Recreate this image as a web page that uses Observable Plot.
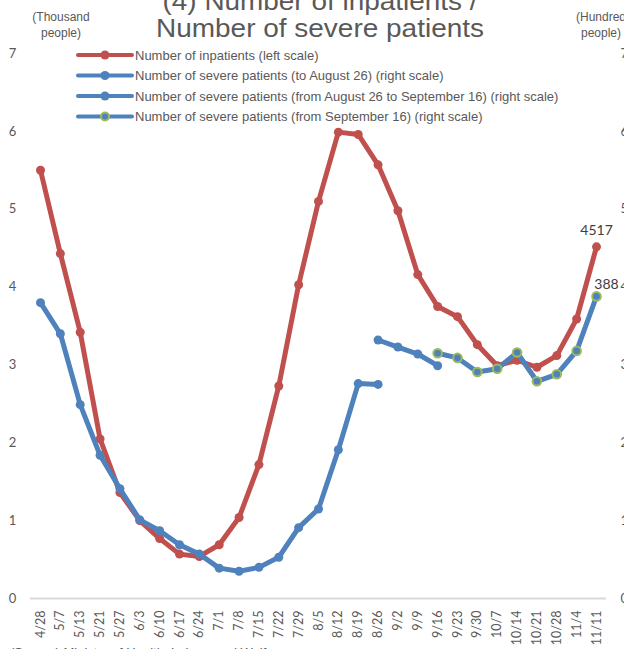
<!DOCTYPE html>
<html>
<head>
<meta charset="utf-8">
<script src="https://cdn.jsdelivr.net/npm/d3@7"></script>
<script src="https://cdn.jsdelivr.net/npm/@observablehq/plot@0.6"></script>
<style>
  html, body { margin: 0; padding: 0; background: #ffffff; overflow: hidden; }
  #chart svg { overflow: visible; display: block; }
</style>
</head>
<body>
<div id="chart"></div>
<script>
// ---- Data ----
const dates = ["4/28","5/7","5/13","5/21","5/27","6/3","6/10","6/17","6/24","7/1","7/8","7/15","7/22","7/29","8/5","8/12","8/19","8/26","9/2","9/9","9/16","9/23","9/30","10/7","10/14","10/21","10/28","11/4","11/11"];
// Number of inpatients (thousand people, left scale), 4/28 .. 11/11
const inpatients = [5.50,4.43,3.42,2.05,1.36,1.00,0.77,0.57,0.54,0.69,1.04,1.72,2.73,4.03,5.10,5.99,5.96,5.57,4.98,4.16,3.75,3.62,3.26,2.99,3.06,2.97,3.12,3.59,4.517];
// Number of severe patients (hundred people, right scale)
const severeToAug26 = [3.80,3.40,2.49,1.84,1.41,1.01,0.87,0.69,0.57,0.39,0.35,0.40,0.53,0.91,1.15,1.91,2.76,2.75]; // 4/28 .. 8/26
const severeAug26ToSep16 = [3.32,3.23,3.14,2.99]; // 8/26 .. 9/16
const severeFromSep16 = [3.15,3.09,2.91,2.95,3.16,2.79,2.88,3.18,3.88]; // 9/16 .. 11/11
const yTicks = [0,1,2,3,4,5,6,7];
const baselineValue = [0];
const titleLines = ["(4) Number of inpatients /", "Number of severe patients"];
const leftUnit = ["(Thousand", "people)"];
const rightUnit = ["(Hundred", "people)"];
const legendLabels = [
  "Number of inpatients (left scale)",
  "Number of severe patients (to August 26) (right scale)",
  "Number of severe patients (from August 26 to September 16) (right scale)",
  "Number of severe patients (from September 16) (right scale)"
];
const lastInpatientsLabel = "4517";
const lastSevereLabel = "388";
const caption = "(Source) Ministry of Health, Labour and Welfare";

// ---- Styles ----
const RED = "#C0504D", BLUE = "#4F81BD", GREEN = "#9BBB59", GRAY = "#595959";
const ARIAL = "'Liberation Sans', Arial, sans-serif";
const CALIBRI = "Lato, 'Liberation Sans', sans-serif";

const toRows = (vals, start) => vals.map((v, i) => ({date: dates[start + i], value: v}));
const inRows = toRows(inpatients, 0);
const s1Rows = toRows(severeToAug26, 0);
const s2Rows = toRows(severeAug26ToSep16, dates.indexOf("8/26"));
const s3Rows = toRows(severeFromSep16, dates.indexOf("9/16"));

const plot = Plot.plot({
  width: 624,
  height: 649,
  marginLeft: 30,
  marginRight: 18,
  marginTop: 53,
  marginBottom: 51,
  style: {background: "#ffffff", overflow: "visible"},
  x: {type: "point", domain: dates, range: [40, 596], padding: 0, round: false},
  y: {domain: [0, 7], range: [598, 53]},
  marks: [
    Plot.ruleY(baselineValue, {y: d => d, stroke: "#D9D9D9", strokeWidth: 2}),
    Plot.axisY(yTicks, {anchor: "left", tickSize: 0, tickPadding: 18, textAnchor: "middle", fontSize: 13, fontFamily: CALIBRI, color: GRAY, label: null, tickFormat: d => String(d)}),
    Plot.axisY(yTicks, {anchor: "right", tickSize: 0, tickPadding: 14, textAnchor: "start", fontSize: 13, fontFamily: CALIBRI, color: GRAY, label: null, tickFormat: d => String(d)}),
    Plot.axisX(dates, {anchor: "bottom", tickSize: 0, tickPadding: 12, tickRotate: -90, fontSize: 12.5, fontFamily: CALIBRI, color: GRAY, label: null}),
    Plot.line(inRows, {x: "date", y: "value", stroke: RED, strokeWidth: 5, strokeLinejoin: "round", strokeLinecap: "round"}),
    Plot.dot(inRows, {x: "date", y: "value", r: 4.5, fill: RED, stroke: null}),
    Plot.line(s1Rows, {x: "date", y: "value", stroke: BLUE, strokeWidth: 5, strokeLinejoin: "round", strokeLinecap: "round"}),
    Plot.dot(s1Rows, {x: "date", y: "value", r: 4.5, fill: BLUE, stroke: null}),
    Plot.line(s2Rows, {x: "date", y: "value", stroke: BLUE, strokeWidth: 5, strokeLinejoin: "round", strokeLinecap: "round"}),
    Plot.dot(s2Rows, {x: "date", y: "value", r: 4.5, fill: BLUE, stroke: null}),
    Plot.line(s3Rows, {x: "date", y: "value", stroke: BLUE, strokeWidth: 5, strokeLinejoin: "round", strokeLinecap: "round"}),
    Plot.dot(s3Rows, {x: "date", y: "value", r: 4.3, fill: BLUE, stroke: GREEN, strokeWidth: 2}),
    Plot.text([inRows[inRows.length - 1]], {x: "date", y: "value", text: () => lastInpatientsLabel, dy: -16, fontSize: 14, fontFamily: CALIBRI, fill: "#404040"}),
    Plot.text([s3Rows[s3Rows.length - 1]], {x: "date", y: "value", text: () => lastSevereLabel, dx: 10, dy: -12, fontSize: 14, fontFamily: CALIBRI, fill: "#404040"})
  ]
});

const svg = d3.select(plot);

// Title
const title = svg.append("g").attr("font-family", ARIAL).attr("fill", GRAY).attr("font-size", 26).attr("text-anchor", "middle");
const titleWidths = [315, 328];
title.selectAll("text").data(titleLines).join("text")
  .attr("x", 320).attr("y", (d, i) => 10 + i * 27)
  .attr("textLength", (d, i) => titleWidths[i]).attr("lengthAdjust", "spacingAndGlyphs")
  .text(d => d);

// Unit labels
const units = svg.append("g").attr("font-family", ARIAL).attr("fill", GRAY).attr("font-size", 12).attr("text-anchor", "middle");
units.selectAll("text.l").data(leftUnit).join("text").attr("class", "l")
  .attr("x", 61).attr("y", (d, i) => 21 + i * 16).text(d => d);
units.selectAll("text.r").data(rightUnit).join("text").attr("class", "r")
  .attr("x", 601).attr("y", (d, i) => 21 + i * 16).text(d => d);

// Legend
const legendStyles = [
  {stroke: RED, fill: RED, ring: null},
  {stroke: BLUE, fill: BLUE, ring: null},
  {stroke: BLUE, fill: BLUE, ring: null},
  {stroke: BLUE, fill: BLUE, ring: GREEN}
];
const legend = svg.append("g").attr("text-anchor", "start");
legendLabels.forEach((lab, i) => {
  const y = 55 + i * 20.5;
  const st = legendStyles[i];
  legend.append("line").attr("x1", 78).attr("x2", 132).attr("y1", y).attr("y2", y)
    .attr("stroke", st.stroke).attr("stroke-width", 4).attr("stroke-linecap", "round");
  legend.append("circle").attr("cx", 105).attr("cy", y).attr("r", st.ring ? 4 : 4.5)
    .attr("fill", st.fill).attr("stroke", st.ring || "none").attr("stroke-width", st.ring ? 2 : 0);
  legend.append("text").attr("x", 135).attr("y", y).attr("dy", "0.35em")
    .attr("font-family", ARIAL).attr("font-size", 13).attr("fill", GRAY).text(lab);
});

// Caption (mostly below the visible area)
svg.append("text").attr("x", 10).attr("y", 657).attr("text-anchor", "start").attr("font-family", ARIAL).attr("font-size", 13)
  .attr("fill", GRAY).text(caption);

document.getElementById("chart").appendChild(plot);
</script>
</body>
</html>
